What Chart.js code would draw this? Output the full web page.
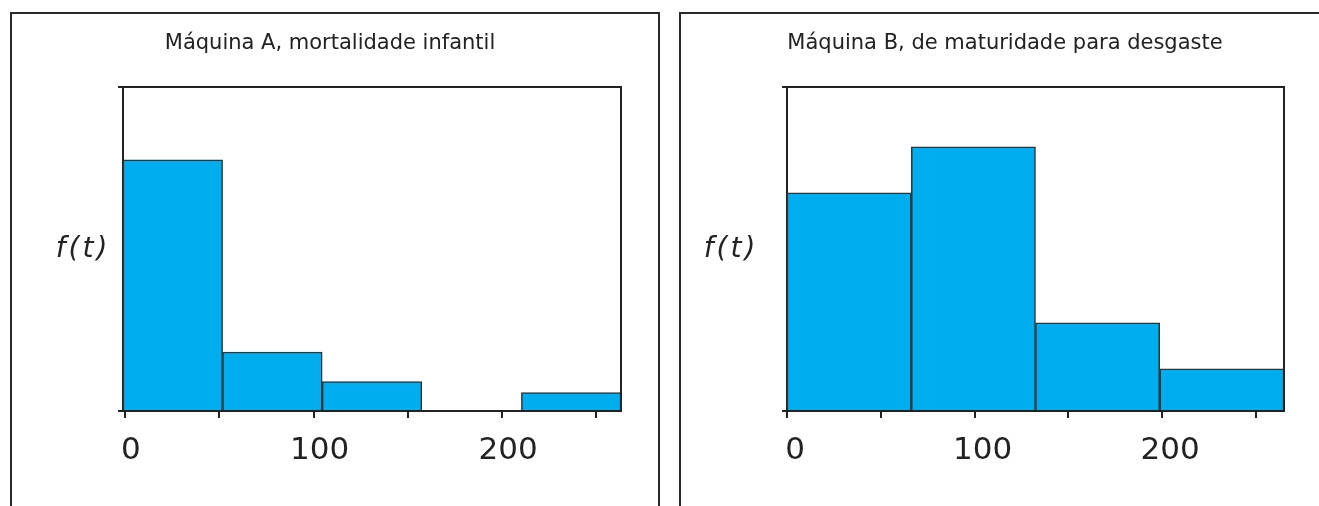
<!DOCTYPE html>
<html>
<head>
<meta charset="utf-8">
<script src="https://cdn.jsdelivr.net/npm/chart.js@4.4.1/dist/chart.umd.min.js"></script>
<style>
  body { margin: 0; background: #fff; overflow: hidden; }
  .panel { position: absolute; top: 12px; height: 600px; border: 2px solid #2a2a2a; box-sizing: border-box; }
  canvas { position: absolute; top: 0; }
</style>
</head>
<body>
<div class="panel" style="left:10px;width:650px"></div>
<div class="panel" style="left:679px;width:700px"></div>
<div style="position:absolute;left:0;top:0;width:660px;height:506px"><canvas id="maqA"></canvas></div>
<div style="position:absolute;left:660px;top:0;width:659px;height:506px"><canvas id="maqB"></canvas></div>
<script>
// Maquina A - bins centers (t) and heights f(t)
var binsA = [25.4, 78.2, 131, 183.8, 236.6];
var valoresA = [77.5, 18.2, 9.1, 0, 5.7];
// Maquina B
var binsB = [33.1, 99.4, 165.6, 231.9];
var valoresB = [67.3, 81.5, 27.2, 13.0];
var etiquetasX = [0, 100, 200];

var titulo = {
  id: 'titulo',
  afterDraw: function(chart, args, opts) {
    var ctx = chart.ctx;
    var a = chart.chartArea;
    ctx.save();
    // caja del area
    ctx.strokeStyle = '#222';
    ctx.lineWidth = 2;
    ctx.beginPath();
    ctx.moveTo(a.left, a.top);
    ctx.lineTo(a.right, a.top);
    ctx.lineTo(a.right, a.bottom);
    ctx.stroke();
    ctx.fillStyle = '#222';
    ctx.textAlign = 'center';
    ctx.textBaseline = 'middle';
    ctx.font = '21px "DejaVu Sans"';
    ctx.fillText(opts.texto, opts.tx, 44);
    ctx.font = 'italic 28px "DejaVu Sans"';
    ctx.letterSpacing = '3px';
    ctx.fillText('f(t)', opts.fx, 250);
    ctx.restore();
  }
};

function hacer(id, bins, valores, xmax, xmin, der, izq, off, texto, tx, fx) {
  var puntos = bins.map(function(b, i) { return {x: b, y: valores[i]}; });
  return new Chart(document.getElementById(id), {
    type: 'bar',
    data: {
      datasets: [{
        xAxisID: 'xb',
        data: puntos,
        backgroundColor: '#00aeef',
        borderColor: '#333',
        borderWidth: 1.5,
        barPercentage: 1,
        categoryPercentage: 1
      }]
    },
    options: {
      responsive: true,
      maintainAspectRatio: false,
      animation: false,
      layout: { padding: { top: 87, right: der, left: 0, bottom: 0 } },
      plugins: {
        legend: { display: false },
        tooltip: { enabled: false },
        titulo: { texto: texto, tx: tx, fx: fx }
      },
      scales: {
        xb: {
          type: 'linear',
          display: false,
          offset: false,
          min: xmin,
          max: xmax,
          ticks: { stepSize: 1000 }
        },
        x: {
          type: 'linear',
          offset: false,
          min: xmin,
          max: xmax,
          afterFit: function(s) { s.height = 95; },
          ticks: {
            stepSize: 50,
            includeBounds: false,
            autoSkip: false,
            maxRotation: 0,
            labelOffset: off,
            padding: 14,
            color: '#222',
            font: { family: 'DejaVu Sans', size: 31 },
            callback: function(v) { return etiquetasX.indexOf(v) >= 0 ? String(v) : ''; }
          },
          grid: { offset: false, drawOnChartArea: false, tickLength: 7, color: '#222', lineWidth: 2 },
          border: { display: true, color: '#222', width: 2 }
        },
        y: {
          min: 0,
          max: 100,
          afterFit: function(s) { s.width = izq; },
          ticks: { display: false, stepSize: 100 },
          grid: { drawOnChartArea: false, tickLength: 5, color: '#222', lineWidth: 2 },
          border: { display: true, color: '#222', width: 2 }
        }
      }
    },
    plugins: [titulo]
  });
}

hacer('maqA', binsA, valoresA, 263, -1, 39, 123, 6, 'Máquina A, mortalidade infantil', 330, 83);
hacer('maqB', binsB, valoresB, 265, 0, 35, 127, 8, 'Máquina B, de maturidade para desgaste', 345, 71);
</script>
</body>
</html>
